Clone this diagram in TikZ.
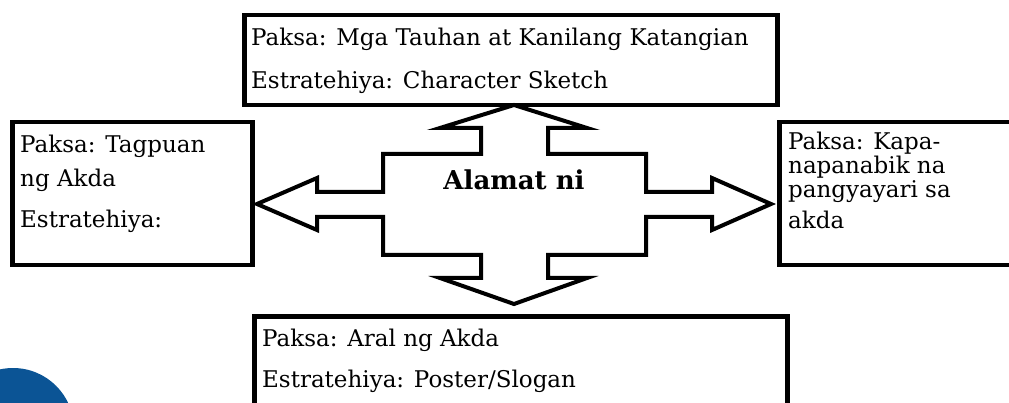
\documentclass[tikz,border=0pt]{standalone}
\usepackage{fontspec}
\setmainfont{DejaVu Serif}
\definecolor{circblue}{RGB}{11,84,149}
\begin{document}
\begin{tikzpicture}[x=1pt,y=-1pt,
  box/.style={draw=black,line width=4.5pt,fill=none},
  txt/.style={anchor=base west,inner sep=0pt,font=\fontsize{23}{23}\selectfont},
  title/.style={anchor=base,inner sep=0pt,font=\fontsize{26}{26}\selectfont\bfseries}]
\useasboundingbox (0,0) rectangle (1009,403);
\clip (0,0) rectangle (1009,403);
% blue circle
\fill[circblue] (13,429) circle (61);
% boxes
\node[box,minimum width=533pt,minimum height=90pt,anchor=north west,inner sep=0pt] (top) at (242,13) {};
\node[box,minimum width=240pt,minimum height=143pt,anchor=north west,inner sep=0pt] (left) at (10,120) {};
\node[box,minimum width=260pt,minimum height=143pt,anchor=north west,inner sep=0pt] (right) at (777,120) {};
\node[box,minimum width=533pt,minimum height=120pt,anchor=north west,inner sep=0pt] (bottom) at (252,314) {};
% cross arrow
\draw[line width=4pt,line join=miter] (514,105) -- (587,128) -- (548,128) -- (548,154) -- (646,154) -- (646,192) -- (712,192) -- (712,178) -- (771,204) -- (712,230) -- (712,217) -- (646,217) -- (646,255) -- (548,255) -- (548,278) -- (587,278) -- (514,304) -- (440,278) -- (481,278) -- (481,255) -- (383,255) -- (383,217) -- (317,217) -- (317,230) -- (257,204) -- (317,178) -- (317,192) -- (383,192) -- (383,154) -- (481,154) -- (481,128) -- (440,128) -- cycle;
% texts
\node[title] (center) at (514,190) {Alamat ni};
\node[txt] (t1) at (251,46) {Paksa: Mga Tauhan at Kanilang Katangian};
\node[txt] (t2) at (251,89) {Estratehiya: Character Sketch};
\node[txt] (l1) at (20,153) {Paksa: Tagpuan};
\node[txt] (l2) at (20,187) {ng Akda};
\node[txt] (l3) at (20,228) {Estratehiya:};
\node[txt] (r1) at (788,150) {Paksa: Kapa-};
\node[txt] (r2) at (788,174) {napanabik na};
\node[txt] (r3) at (788,198) {pangyayari sa};
\node[txt] (r4) at (788,229) {akda};
\node[txt] (b1) at (262,346) {Paksa: Aral ng Akda};
\node[txt] (b2) at (262,387) {Estratehiya: Poster/Slogan};
\end{tikzpicture}
\end{document}
